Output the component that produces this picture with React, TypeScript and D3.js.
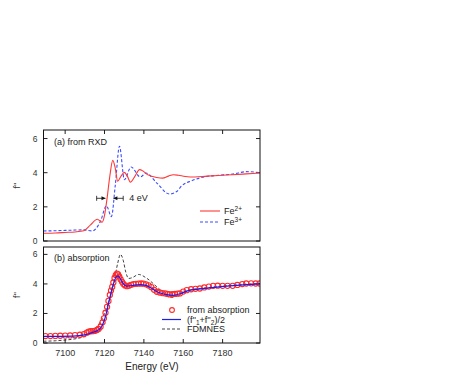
import { useEffect, useRef } from 'react';
import * as d3 from 'd3';

// panel (a): f'' from RXD
const fe2Energy = [7089, 7095, 7100, 7105, 7109.5, 7112.9, 7116.3, 7118.8, 7120, 7121.3, 7122.7, 7124.2, 7125.4, 7126.7, 7128.4, 7130.1, 7131.6, 7133.1, 7135.5, 7137.8, 7139.5, 7141.6, 7146.6, 7149.5, 7152.5, 7155, 7157.5, 7161, 7166, 7172, 7178, 7185, 7192, 7199];
const fe2Value = [0.45, 0.47, 0.5, 0.53, 0.6, 0.94, 1.27, 1.1, 1.5, 2.5, 3.8, 4.72, 4.3, 3.5, 3.8, 4.02, 3.8, 3.45, 3.8, 4.18, 4.1, 3.9, 3.72, 3.68, 3.8, 3.88, 3.85, 3.78, 3.75, 3.8, 3.84, 3.88, 3.93, 3.98];

const fe3Energy = [7089, 7095, 7100, 7105, 7109.5, 7113.8, 7117.9, 7121, 7123.5, 7125.5, 7127.6, 7130.1, 7133.5, 7138.2, 7141.1, 7146.6, 7153, 7156.7, 7159.3, 7164.3, 7171.9, 7178, 7185.3, 7192.1, 7199];
const fe3Value = [0.59, 0.6, 0.62, 0.64, 0.65, 0.59, 1.14, 2.06, 1.43, 3.3, 5.55, 3.59, 4.33, 3.75, 3.98, 3.39, 2.75, 2.9, 3.24, 3.53, 3.78, 3.85, 3.92, 4.06, 4.0];

// panel (b): absorption
const absEnergy = [7090, 7092.5, 7095, 7097.5, 7100, 7102.5, 7105, 7107.5, 7109.5, 7111, 7112, 7113, 7114, 7115, 7116.2, 7117, 7118, 7119, 7119.7, 7120.5, 7121.3, 7122, 7122.7, 7123.3, 7123.9, 7124.5, 7125.1, 7125.7, 7126.3, 7126.9, 7127.5, 7128.2, 7128.9, 7129.6, 7130.4, 7131.4, 7132.4, 7133.5, 7134.7, 7136, 7137.3, 7138.6, 7139.8, 7141.1, 7142.4, 7143.8, 7145.2, 7146.6, 7148, 7149.4, 7150.8, 7152, 7153, 7154.4, 7155.8, 7157.1, 7158.3, 7160, 7161.8, 7164, 7166.2, 7168.4, 7170.7, 7173, 7175.2, 7177.5, 7180, 7182.5, 7185.1, 7187.5, 7190, 7192, 7194.5, 7196.8, 7198.8];
const absValue = [0.47, 0.47, 0.48, 0.49, 0.5, 0.51, 0.53, 0.56, 0.6, 0.7, 0.77, 0.8, 0.8, 0.82, 0.88, 0.95, 1.1, 1.4, 1.67, 2.05, 2.45, 2.85, 3.25, 3.55, 3.8, 4.1, 4.4, 4.6, 4.7, 4.65, 4.5, 4.3, 4.14, 4.0, 3.9, 3.85, 3.88, 3.94, 3.99, 4.01, 4.02, 4.03, 4.02, 3.97, 3.9, 3.78, 3.6, 3.47, 3.42, 3.38, 3.36, 3.32, 3.29, 3.3, 3.32, 3.34, 3.36, 3.48, 3.58, 3.64, 3.67, 3.69, 3.76, 3.82, 3.87, 3.88, 3.87, 3.87, 3.87, 3.93, 3.99, 4.03, 4.04, 4.03, 4.03];

const avgEnergy = [7089, 7104, 7110, 7113.6, 7116.5, 7118.5, 7120.4, 7122.4, 7124.4, 7125.8, 7126.8, 7127.8, 7129.3, 7131.2, 7134.2, 7138.1, 7141, 7144, 7146.9, 7150.8, 7154.7, 7158.7, 7162.6, 7167.5, 7172.4, 7182.2, 7192, 7199];
const avgValue = [0.45, 0.47, 0.55, 0.7, 0.85, 1.1, 1.75, 2.9, 3.95, 4.45, 4.55, 4.4, 4.05, 3.85, 3.9, 3.95, 3.9, 3.7, 3.45, 3.3, 3.22, 3.35, 3.55, 3.65, 3.72, 3.85, 3.95, 4.0];

const fdmEnergy = [7089, 7095, 7100, 7105, 7109.5, 7114.6, 7117.9, 7121.3, 7124.7, 7126.7, 7128.1, 7129.5, 7130.8, 7132.3, 7134.5, 7137.3, 7141.6, 7146.6, 7151.7, 7154.2, 7159.3, 7163.4, 7171.9, 7185.3, 7199];
const fdmValue = [0.12, 0.15, 0.2, 0.28, 0.43, 0.88, 1.44, 2.45, 4.03, 5.4, 6.0, 5.6, 4.8, 4.37, 4.45, 4.64, 4.37, 3.8, 3.24, 3.09, 3.36, 3.58, 3.74, 3.92, 4.03];

const xTicks = [7100, 7120, 7140, 7160, 7180];
const yTicks = [0, 2, 4, 6];

const App = () => {
  const ref = useRef<SVGSVGElement>(null!);

  useEffect(() => {
    const svg = d3.select(ref.current);
    svg.selectAll('*').remove();
    const font = 'Liberation Sans, Arial, Helvetica, sans-serif';
    const left = 43.5;
    const right = 260;
    const x = d3.scaleLinear().domain([7089, 7199]).range([left, right]);
    const yA = d3.scaleLinear().domain([0, 6.5]).range([241, 130]);
    const yB = d3.scaleLinear().domain([0, 6.5]).range([343, 247]);

    const zip = (e: number[], v: number[]) => e.map((d, i) => [d, v[i]] as [number, number]);

    const panel = (id: string, y: d3.ScaleLinear<number, number>, topTicks: boolean, bottomTicks: boolean) => {
      const [y0, y1] = y.range();
      svg
        .append('clipPath')
        .attr('id', id)
        .append('rect')
        .attr('x', left)
        .attr('y', y1)
        .attr('width', right - left)
        .attr('height', y0 - y1);
      const g = svg.append('g');
      yTicks.forEach(t => {
        g.append('line').attr('x1', left).attr('x2', left + 4).attr('y1', y(t)).attr('y2', y(t)).attr('stroke', '#222');
        g.append('line').attr('x1', right - 4).attr('x2', right).attr('y1', y(t)).attr('y2', y(t)).attr('stroke', '#222');
        g.append('text')
          .attr('x', left - 6)
          .attr('y', y(t))
          .attr('dy', '0.35em')
          .attr('text-anchor', 'end')
          .attr('font-size', 8.5)
          .attr('fill', '#333')
          .attr('font-family', font)
          .text(t);
      });
      xTicks.forEach(t => {
        if (topTicks)
          g.append('line').attr('x1', x(t)).attr('x2', x(t)).attr('y1', y1).attr('y2', y1 + 4).attr('stroke', '#222');
        if (bottomTicks)
          g.append('line').attr('x1', x(t)).attr('x2', x(t)).attr('y1', y0 - 4).attr('y2', y0).attr('stroke', '#222');
      });
      const cy = (y0 + y1) / 2;
      g.append('text')
        .attr('transform', `translate(20, ${cy}) rotate(-90)`)
        .attr('text-anchor', 'middle')
        .attr('font-size', 9)
        .attr('fill', '#333')
        .attr('font-family', font)
        .text("f''");
      return { g, clip: svg.append('g').attr('clip-path', `url(#${id})`), y0, y1 };
    };

    const pa = panel('clipA', yA, true, false);
    const pb = panel('clipB', yB, false, true);

    const lineA = d3
      .line<[number, number]>()
      .x(d => x(d[0]))
      .y(d => yA(d[1]))
      .curve(d3.curveMonotoneX);
    const lineB = d3
      .line<[number, number]>()
      .x(d => x(d[0]))
      .y(d => yB(d[1]))
      .curve(d3.curveMonotoneX);

    pa.clip.append('path').attr('d', lineA(zip(fe3Energy, fe3Value))).attr('fill', 'none').attr('stroke', '#3a4cff').attr('stroke-width', 1.1).attr('stroke-dasharray', '3,2');
    pa.clip.append('path').attr('d', lineA(zip(fe2Energy, fe2Value))).attr('fill', 'none').attr('stroke', '#ff3838').attr('stroke-width', 1.1);

    pb.clip.append('path').attr('d', lineB(zip(fdmEnergy, fdmValue))).attr('fill', 'none').attr('stroke', '#111').attr('stroke-width', 0.8).attr('stroke-dasharray', '3,2');
    pb.clip
      .selectAll('circle')
      .data(zip(absEnergy, absValue))
      .enter()
      .append('circle')
      .attr('cx', d => x(d[0]))
      .attr('cy', d => yB(d[1]))
      .attr('r', 2.6)
      .attr('fill', 'none')
      .attr('stroke', '#ff2a2a')
      .attr('stroke-width', 1.1);
    pb.clip.append('path').attr('d', lineB(zip(avgEnergy, avgValue))).attr('fill', 'none').attr('stroke', '#1c1cf0').attr('stroke-width', 1.2);

    // frames
    [pa, pb].forEach(p => {
      svg
        .append('rect')
        .attr('x', left)
        .attr('y', p.y1)
        .attr('width', right - left)
        .attr('height', p.y0 - p.y1)
        .attr('fill', 'none')
        .attr('stroke', '#111')
        .attr('stroke-width', 1);
    });

    // x tick labels and title
    xTicks.forEach(t => {
      svg
        .append('text')
        .attr('x', x(t))
        .attr('y', 356)
        .attr('text-anchor', 'middle')
        .attr('font-size', 9)
        .attr('fill', '#333')
        .attr('font-family', font)
        .text(t);
    });
    svg
      .append('text')
      .attr('x', 152)
      .attr('y', 370)
      .attr('text-anchor', 'middle')
      .attr('font-size', 10)
      .attr('fill', '#222')
      .attr('font-family', font)
      .text('Energy (eV)');

    const label = (tx: number, ty: number, s: string) =>
      svg.append('text').attr('x', tx).attr('y', ty).attr('font-size', 9).attr('fill', '#222').attr('font-family', font).text(s);
    label(54, 145, '(a) from RXD');
    label(54, 261, '(b) absorption');

    // 4 eV arrows
    const ay = yA(2.5);
    const arrow = (from: number, to: number) => {
      const x1 = x(from);
      const x2 = x(to);
      const dir = Math.sign(x2 - x1);
      svg.append('line').attr('x1', x1).attr('x2', x2).attr('y1', ay).attr('y2', ay).attr('stroke', '#111').attr('stroke-width', 0.8);
      svg
        .append('path')
        .attr('d', `M${x2},${ay} L${x2 - dir * 4},${ay - 2} L${x2 - dir * 4},${ay + 2} Z`)
        .attr('fill', '#111');
      svg.append('line').attr('x1', x1).attr('x2', x1).attr('y1', ay - 2.5).attr('y2', ay + 2.5).attr('stroke', '#111').attr('stroke-width', 0.8);
    };
    arrow(7116, 7120.5);
    arrow(7129.5, 7124.5);
    svg.append('text').attr('x', x(7132.6)).attr('y', ay).attr('dy', '0.35em').attr('font-size', 9).attr('fill', '#222').attr('font-family', font).text('4 eV');

    // legend (a)
    const fe = (ty: number, charge: string) => {
      const t = svg.append('text').attr('x', 224).attr('y', ty).attr('dy', '0.35em').attr('font-size', 9).attr('fill', '#222').attr('font-family', font);
      t.append('tspan').text('Fe');
      t.append('tspan').attr('font-size', 6.5).attr('dy', '-0.55em').text(charge);
    };
    svg.append('line').attr('x1', 200).attr('x2', 220).attr('y1', 211).attr('y2', 211).attr('stroke', '#ff3838').attr('stroke-width', 1.1);
    fe(211, '2+');
    svg.append('line').attr('x1', 200).attr('x2', 220).attr('y1', 222).attr('y2', 222).attr('stroke', '#3a4cff').attr('stroke-width', 1.1).attr('stroke-dasharray', '3,2');
    fe(222, '3+');

    // legend (b)
    svg.append('circle').attr('cx', 172).attr('cy', 310).attr('r', 2.4).attr('fill', 'none').attr('stroke', '#ff2a2a').attr('stroke-width', 1.1);
    svg.append('text').attr('x', 187).attr('y', 310).attr('dy', '0.35em').attr('font-size', 9).attr('fill', '#222').attr('font-family', font).text('from absorption');
    svg.append('line').attr('x1', 162).attr('x2', 181).attr('y1', 319.5).attr('y2', 319.5).attr('stroke', '#1c1cf0').attr('stroke-width', 1.2);
    const avgText = svg.append('text').attr('x', 187).attr('y', 319.5).attr('dy', '0.35em').attr('font-size', 9).attr('fill', '#222').attr('font-family', font);
    avgText.append('tspan').text("(f''");
    avgText.append('tspan').attr('font-size', 6.5).attr('dy', 2).text('1');
    avgText.append('tspan').attr('dy', -2).text("+f''");
    avgText.append('tspan').attr('font-size', 6.5).attr('dy', 2).text('2');
    avgText.append('tspan').attr('dy', -2).text(')/2');
    svg.append('line').attr('x1', 162).attr('x2', 181).attr('y1', 329).attr('y2', 329).attr('stroke', '#111').attr('stroke-width', 0.8).attr('stroke-dasharray', '3,2');
    svg.append('text').attr('x', 187).attr('y', 329).attr('dy', '0.35em').attr('font-size', 9).attr('fill', '#222').attr('font-family', font).text('FDMNES');

    return () => {
      svg.selectAll('*').remove();
    };
  }, []);

  return (
    <svg
      ref={ref}
      width={450}
      height={378}
      style={{ position: 'absolute', left: 0, top: 0, background: '#fff' }}
    ></svg>
  );
};

export default App;
